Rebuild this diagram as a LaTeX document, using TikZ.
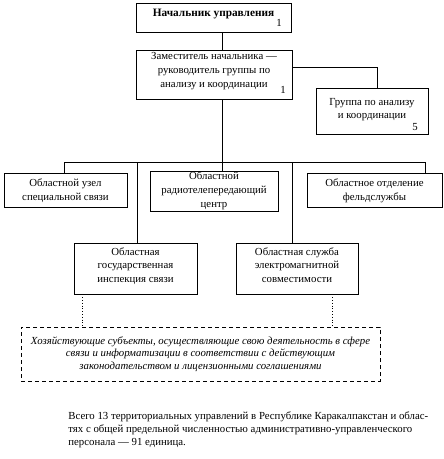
\documentclass[tikz,border=0pt]{standalone}
\usepackage{fontspec}
\setmainfont{Liberation Serif}
\usetikzlibrary{positioning}

\begin{document}
\begin{tikzpicture}[x=1pt,y=-1pt,line width=0.8pt,
        unit/.style={rectangle,draw,align=center,inner sep=1pt,font=\fontsize{10.8}{14}\selectfont},
        num/.style={inner sep=0pt,font=\fontsize{10.8}{12}\selectfont},
        sector/.style={rectangle,draw,dashed,dash pattern=on 4pt off 3pt,align=center,inner sep=1pt,font=\fontsize{10.8}{12.5}\selectfont\itshape}]
        \useasboundingbox (0,0) rectangle (444,459);

        % management
        \node at (213.5,17.5) [unit, minimum width=155, minimum height=29, font=\fontsize{11.3}{14}\selectfont\bfseries] (chief) {\raisebox{9pt}{Начальник управления}};
        \node at (279,23) [num] (chief_n) {1};

        \node at (214,74.5) [unit, minimum width=156, minimum height=49] (deputy) {Заместитель начальника ---\\руководитель группы по\\анализу и координации\\[-4pt]\mbox{}};
        \node at (283,90) [num] (deputy_n) {1};

        \node at (372,111) [unit, minimum width=112, minimum height=46, font=\fontsize{10.8}{12.5}\selectfont] (group) {Группа по анализу\\и координации\\[-7pt]\mbox{}};
        \node at (415,127) [num] (group_n) {5};

        % regional units
        \node at (65.5,190) [unit, minimum width=123, minimum height=34] (node_sv) {\mbox{}\\[-4pt]Областной узел\\специальной связи};
        \node at (214,191) [unit, minimum width=128, minimum height=36] (radio) {Областной\\радиотелепередающий\\центр};
        \node at (374.5,190) [unit, minimum width=135, minimum height=34] (courier) {\mbox{}\\[-4pt]Областное отделение\\фельдслужбы};

        \node at (135.5,268.5) [unit, minimum width=123, minimum height=51, font=\fontsize{10.8}{13.5}\selectfont] (inspect) {Областная\\государственная\\инспекция связи\\[-6pt]\mbox{}};
        \node at (297,268.5) [unit, minimum width=122, minimum height=51, font=\fontsize{10.8}{13.5}\selectfont] (emc) {Областная служба\\электромагнитной\\совместимости\\[-6pt]\mbox{}};

        \node at (200.5,354) [sector, minimum width=359, minimum height=54] (subjects) {Хозяйствующие субъекты, осуществляющие свою деятельность  в сфере\\связи и информатизации в соответствии с действующим\\законодательством и лицензионными соглашениями};

        \node at (68,411) [anchor=north west, inner sep=0pt, align=left, font=\fontsize{10.8}{13}\selectfont] (total) {Всего 13 территориальных управлений в Республике Каракалпакстан и облас-\\тях с общей предельной численностью административно-управленческого\\персонала --- 91 единица.};

        % bus
        \coordinate (trunk) at (222,162);
        \coordinate (bus_w) at (64,162);
        \coordinate (bus_e) at (425,162);
        \coordinate (corner) at (377,67);

        \draw   (chief.south -| trunk) -- (deputy.north -| trunk)
                (deputy.south -| trunk) -- (radio.north -| trunk)
                (bus_w) -- (bus_e)
                (bus_w) -- (node_sv.north -| bus_w)
                (bus_e) -- (courier.north -| bus_e)
                (deputy.east |- corner) -- (corner) -- (group.north -| corner)
                (inspect.north -| 137,0) -- (bus_w -| 137,0)
                (emc.north -| 292,0) -- (bus_w -| 292,0)
            ;
        \draw[dotted] (inspect.south -| 82,0) -- (subjects.north -| 82,0)
                      (emc.south -| 332,0) -- (subjects.north -| 332,0);

    \end{tikzpicture}
\end{document}
